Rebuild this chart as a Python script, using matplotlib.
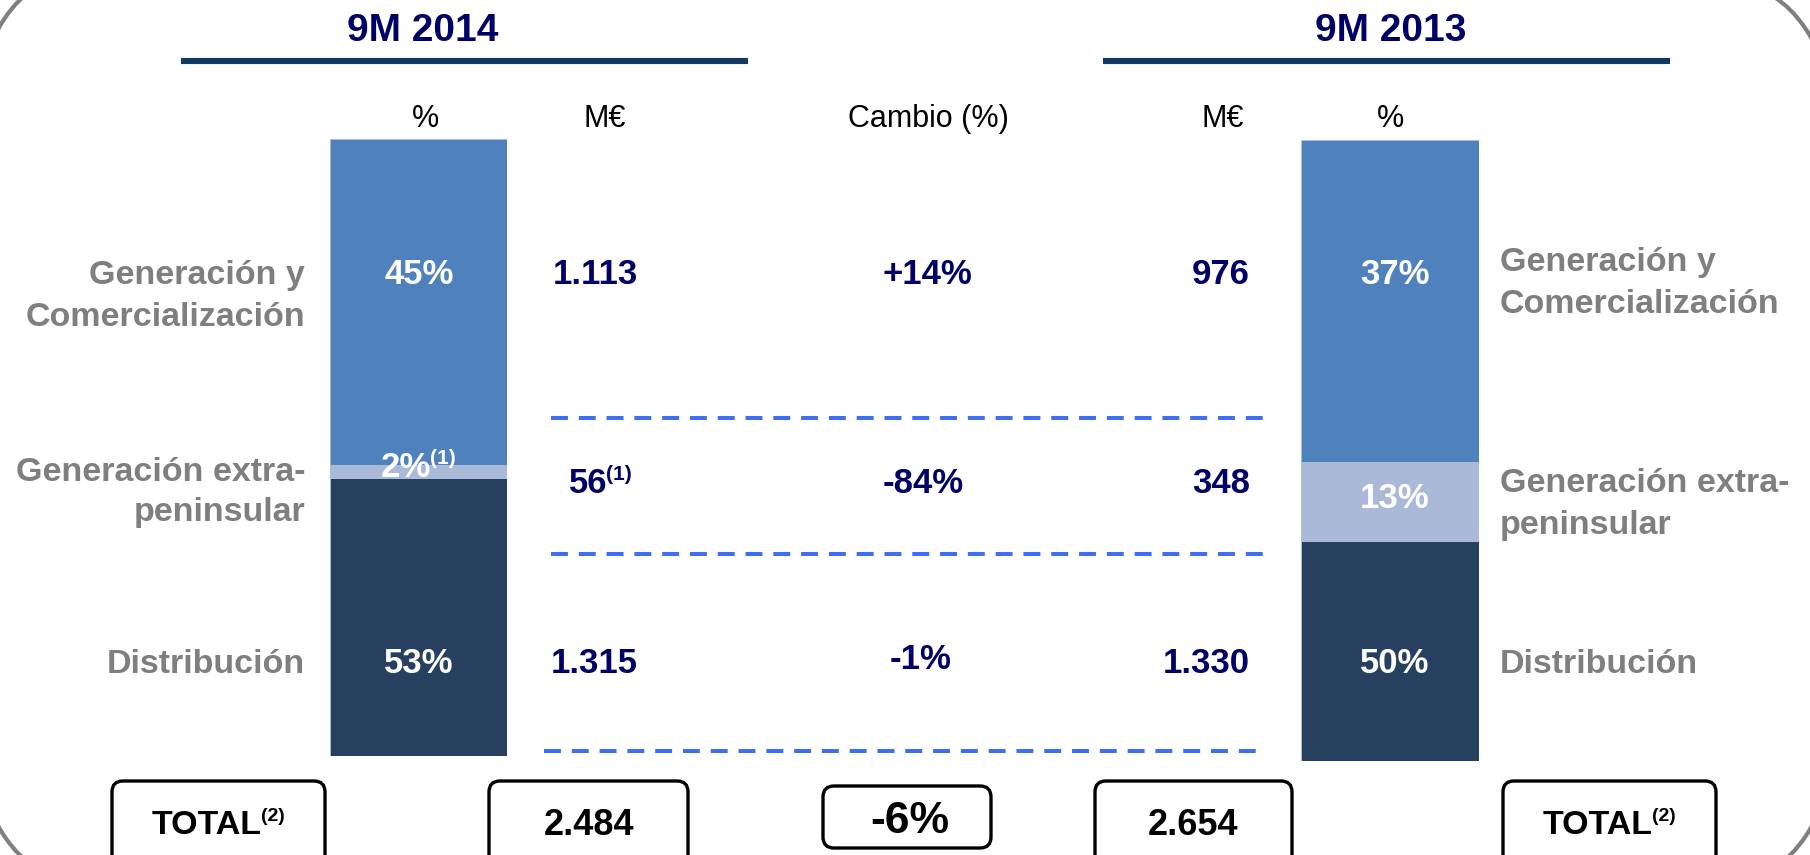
import matplotlib
matplotlib.use("Agg")
import matplotlib.pyplot as plt
from matplotlib.patches import FancyBboxPatch, Arc

plt.rcParams['font.family'] = ['Liberation Sans', 'DejaVu Sans']

# ---------------- data ----------------
period_titles = ["9M 2014", "9M 2013"]
row_labels = ["Generación y\nComercialización", "Generación extra-\npeninsular", "Distribución"]
meur_2014 = ["1.113", "56", "1.315"]
meur_2013 = ["976", "348", "1.330"]
pct_2014 = ["45%", "2%", "53%"]
pct_2013 = ["37%", "13%", "50%"]
cambio = ["+14%", "-84%", "-1%"]
header_labels = ["%", "M€", "Cambio (%)", "M€", "%"]
total_2014 = "2.484"
total_2013 = "2.654"
total_cambio = "-6%"
total_label = "TOTAL"
# bar segment heights as drawn (bottom -> top), in % of bar
bar_seg_2014 = [45.0, 2.1, 52.9]
bar_seg_2013 = [35.4, 12.7, 51.9]
seg_colors = ["#27405F", "#ABB9D8", "#4F81BD"]   # bottom, middle, top

W, H = 1810, 855
DPI = 100
fig = plt.figure(figsize=(W / DPI, H / DPI), dpi=DPI)
fig.patch.set_facecolor("white")

NAVY = "#000066"
GRAY = "#7F7F7F"
DASH = "#3F6EF2"


def px_rect(x0, y0, x1, y1):
    return [x0 / W, (H - y1) / H, (x1 - x0) / W, (y1 - y0) / H]


# ---------------- bars ----------------
def draw_bar(rect, segs):
    ax = fig.add_axes(rect)
    ax.set_zorder(1)
    bottom = 0.0
    for h, c in zip(segs, seg_colors):
        ax.bar(0, h, width=1.0, bottom=bottom, color=c, edgecolor="#A9BEDD",
               linewidth=0.7, align="center")
        bottom += h
    ax.set_xlim(-0.5, 0.5)
    ax.set_ylim(0, sum(segs))
    ax.axis("off")
    return ax


draw_bar(px_rect(330, 139, 507, 756), bar_seg_2014)
draw_bar(px_rect(1301, 140, 1479, 761), bar_seg_2013)

# ---------------- overlay ----------------
ov = fig.add_axes([0, 0, 1, 1])
ov.set_zorder(2)
ov.patch.set_visible(False)
ov.set_xlim(0, W)
ov.set_ylim(H, 0)
ov.axis("off")

# outer rounded frame (only the corners are visible)
for (cx, cy, t1, t2) in [(75, 125, 180, 270), (1735, 135, 270, 360),
                         (75, 730, 90, 180), (1735, 730, 0, 90)]:
    ov.add_patch(Arc((cx, cy), 200, 300, theta1=t1, theta2=t2,
                     edgecolor="#808080", linewidth=3.0))


def put(x, yc, s, size, ha="center", color="black", weight="bold"):
    """Place single-line text so that the cap-height centre sits at yc."""
    return ov.text(x, yc + 0.358 * size * DPI / 72.0, s, fontsize=size,
                   ha=ha, va="baseline", color=color, fontweight=weight)


def sup(t, s, size, color):
    return ov.annotate(s, xy=(1.0, 1.0), xycoords=t, xytext=(-0.5, 1.5),
                       textcoords="offset points", ha="left", va="top",
                       fontsize=size, color=color, fontweight="bold")


def put_multi(x, yc_first, s, size, ha, color, step=42):
    for i, line in enumerate(s.split("\n")):
        put(x, yc_first + i * step, line, size, ha=ha, color=color)


# titles and underlines
put(423, 27, period_titles[0], 28, color=NAVY)
put(1391, 27, period_titles[1], 28, color=NAVY)
ov.plot([181, 748], [61, 61], color="#12395F", linewidth=4.4, solid_capstyle="butt")
ov.plot([1103, 1670], [61, 61], color="#12395F", linewidth=4.4, solid_capstyle="butt")

# headers
for x, lab in zip([425, 605, 928, 1223, 1390], header_labels):
    put(x, 116, lab, 22, weight="normal")

# row labels
put_multi(305, 272, row_labels[0], 24.5, "right", GRAY)
put_multi(305, 469, row_labels[1], 24.5, "right", GRAY, step=40)
put_multi(305, 661, row_labels[2], 24.5, "right", GRAY)
put_multi(1500, 259, row_labels[0], 24.5, "left", GRAY)
put_multi(1500, 480, row_labels[1], 24.5, "left", GRAY)
put_multi(1500, 661, row_labels[2], 24.5, "left", GRAY)

row_y = [272, 481, 661]

# left pct labels (inside bar)
put(419, row_y[0], pct_2014[0], 25, color="white")
t2 = put(406, 465, pct_2014[1], 25, color="white")
sup(t2, "(1)", 15, "white")
put(419, row_y[2], pct_2014[2], 25, color="white")

# left M€
put(638, row_y[0], meur_2014[0], 25, ha="right", color=NAVY)
t56 = put(607, row_y[1], meur_2014[1], 25, ha="right", color=NAVY)
sup(t56, "(1)", 15, NAVY)
put(638, row_y[2], meur_2014[2], 25, ha="right", color=NAVY)

# cambio
put(927, row_y[0], cambio[0], 25, color=NAVY)
put(923, row_y[1], cambio[1], 25, color=NAVY)
put(921, 657, cambio[2], 25, color=NAVY)

# right M€
for y, v in zip(row_y, meur_2013):
    put(1250, y, v, 25, ha="right", color=NAVY)

# right pct labels (inside bar)
put(1395, row_y[0], pct_2013[0], 25, color="white")
put(1395, 496, pct_2013[1], 25, color="white")
put(1395, row_y[2], pct_2013[2], 25, color="white")

# dashed separators
for (x0, x1, y) in [(551, 1267, 418), (551, 1267, 554), (544, 1260, 751)]:
    ov.plot([x0, x1], [y, y], color=DASH, linewidth=2.9, linestyle=(0, (4.2, 2.7)),
            solid_capstyle="butt", dash_capstyle="butt")


# total boxes
def box(x0, y0, x1, y1):
    p = FancyBboxPatch((x0, y0), x1 - x0, y1 - y0,
                       boxstyle="round,pad=0,rounding_size=11",
                       fill=True, facecolor="white", edgecolor="black", linewidth=2.4)
    ov.add_patch(p)


box(112, 781, 325, 866)
box(489, 781, 688, 866)
box(823, 786, 991, 848)
box(1095, 781, 1292, 866)
box(1503, 781, 1716, 866)

tt1 = put(207, 822, total_label, 24.5)
sup(tt1, "(2)", 14, "black")
put(589, 822, total_2014, 26)
put(910, 817, total_cambio, 32)
put(1193, 822, total_2013, 26)
tt2 = put(1598, 822, total_label, 24.5)
sup(tt2, "(2)", 14, "black")

fig.savefig("out.png", dpi=DPI, facecolor="white")
